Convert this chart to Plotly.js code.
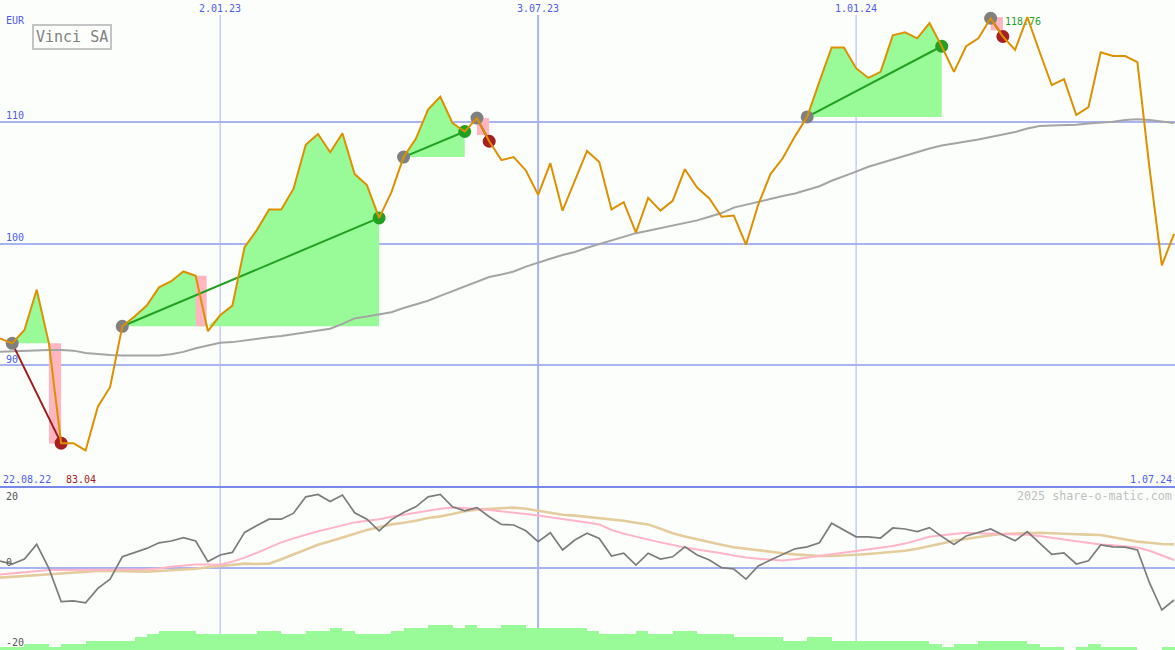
<!DOCTYPE html>
<html>
<head>
<meta charset="utf-8">
<script src="https://cdn.plot.ly/plotly-3.0.1.min.js"></script>
<style>
html,body{margin:0;padding:0;background:#fcfefc;}
#chart{width:1175px;height:650px;}
</style>
</head>
<body>
<div id="chart"></div>
<script>
// ---------- data (weekly closes, first week starting 2022-08-29) ----------
const firstWeek = '2022-08-29';
const price = [92.2, 91.8, 92.9, 96.2, 91.8, 83.6, 83.6, 83.0, 86.6, 88.2,
  93.2, 94.0, 94.9, 96.4, 96.9, 97.7, 97.35, 92.8, 94.1, 94.9,
  99.7, 101.1, 102.8, 102.8, 104.5, 108.1, 109.0, 107.5, 109.05, 105.7,
  104.8, 102.1, 104.2, 107.1, 108.6, 111.0, 112.05, 109.9, 109.2, 110.3,
  108.4, 106.85, 107.1, 106.0, 104.0, 106.6, 102.7, 105.2, 107.6, 106.7,
  102.8, 103.4, 100.9, 103.75, 102.7, 103.5, 106.1, 104.6, 103.7, 102.2,
  102.3, 99.9, 103.2, 105.7, 107.0, 108.8, 110.4, 113.3, 116.1, 116.1,
  114.4, 113.6, 114.1, 117.1, 117.35, 116.85, 118.1, 116.2, 114.1, 116.2,
  116.85, 118.5, 117.0, 115.9, 118.6, 115.75, 113.0, 113.5, 110.55, 111.2,
  115.7, 115.4, 115.4, 114.9, 106.1, 98.2, 100.8];
const slowAverage = [91.1, 91.15, 91.2, 91.2, 91.25, 91.25, 91.2, 91.0, 90.9, 90.85,
  90.8, 90.8, 90.8, 90.8, 90.9, 91.1, 91.4, 91.65, 91.85, 91.9,
  92.05, 92.15, 92.3, 92.4, 92.55, 92.7, 92.85, 93.0, 93.4, 93.85,
  94.0, 94.2, 94.35, 94.7, 95.0, 95.3, 95.7, 96.1, 96.5, 96.9,
  97.25, 97.45, 97.7, 98.1, 98.45, 98.75, 99.05, 99.3, 99.65, 99.95,
  100.3, 100.6, 100.85, 101.05, 101.25, 101.45, 101.65, 101.9, 102.2, 102.5,
  102.95, 103.2, 103.45, 103.65, 103.9, 104.1, 104.4, 104.7, 105.15, 105.5,
  105.9, 106.3, 106.6, 106.95, 107.25, 107.55, 107.8, 108.05, 108.2, 108.35,
  108.55, 108.75, 108.95, 109.15, 109.45, 109.65, 109.7, 109.7, 109.75, 109.85,
  109.9, 110.0, 110.15, 110.2, 110.15, 110.0, 109.9];
const momentum = [1.75, 1.0, 2.25, 5.9, -0.1, -8.4, -8.2, -8.7, -5.1, -2.8,
  2.8, 3.8, 4.9, 6.3, 6.75, 7.6, 6.75, 1.6, 3.25, 3.9,
  8.9, 10.6, 12.2, 12.2, 13.7, 17.8, 18.4, 16.6, 18.25, 13.8,
  12.2, 9.3, 12.1, 13.9, 15.3, 17.8, 18.4, 15.3, 14.3, 15.1,
  12.8, 10.9, 10.75, 9.3, 6.6, 8.8, 4.5, 7.0, 8.7, 7.4,
  3.0, 3.7, 0.75, 3.7, 2.25, 2.8, 5.3, 3.25, 2.0, 0.1,
  -0.25, -2.8, 0.5, 2.0, 3.5, 4.8, 5.3, 6.3, 11.2, 9.5,
  7.8, 7.8, 7.5, 10.0, 9.75, 9.1, 10.1, 7.9, 5.9, 8.0,
  8.8, 9.75, 8.25, 6.8, 9.1, 6.2, 3.4, 3.8, 1.0, 1.8,
  5.75, 5.3, 5.2, 4.5, -3.8, -10.5, -8.0];
const momentumFast = [-1.6, -1.3, -1.0, -0.8, -0.5, -0.5, -0.5, -0.5, -0.5, -0.45,
  -0.4, -0.35, -0.3, -0.1, 0.3, 0.6, 0.9, 0.9, 0.8, 1.6,
  2.6, 3.8, 5.1, 6.4, 7.4, 8.3, 9.2, 9.9, 10.7, 11.4,
  11.8, 12.2, 12.8, 13.3, 13.8, 14.3, 14.8, 15.1, 15.0, 14.8,
  14.5, 14.2, 13.9, 13.5, 13.1, 12.7, 12.2, 11.8, 11.4, 10.9,
  9.5, 8.6, 7.8, 7.1, 6.4, 5.7, 5.1, 4.6, 4.2, 3.7,
  3.1, 2.6, 2.3, 2.0, 1.85, 2.2, 2.6, 3.0, 3.4, 3.8,
  4.2, 4.6, 5.1, 5.5, 6.1, 6.9, 7.8, 8.2, 8.5, 8.8,
  8.7, 8.6, 8.5, 8.4, 8.3, 8.0, 7.5, 7.1, 6.7, 6.3,
  5.9, 5.7, 5.4, 5.1, 4.3, 3.1, 2.0];
const momentumSlow = [-2.4, -2.2, -2.0, -1.8, -1.6, -1.4, -1.2, -0.95, -0.75, -0.75,
  -0.8, -0.85, -0.9, -0.75, -0.55, -0.4, -0.2, 0.2, 0.5, 0.85,
  1.1, 1.0, 1.1, 2.2, 3.4, 4.6, 5.8, 6.7, 7.6, 8.6,
  9.5, 10.2, 10.9, 11.3, 11.8, 12.5, 12.9, 13.5, 14.2, 14.6,
  14.8, 15.0, 15.1, 14.8, 14.3, 13.7, 13.3, 13.1, 12.8, 12.5,
  12.2, 11.8, 11.3, 10.9, 9.8, 8.7, 7.9, 7.2, 6.4, 5.8,
  5.2, 4.8, 4.4, 4.0, 3.7, 3.4, 3.2, 3.0, 3.0, 3.1,
  3.3, 3.5, 3.8, 4.0, 4.3, 4.8, 5.4, 6.1, 6.8, 7.3,
  7.8, 8.2, 8.5, 8.6, 8.75, 8.8, 8.7, 8.5, 8.45, 8.35,
  8.25, 7.7, 7.1, 6.6, 6.3, 6.0, 5.9];
const volumeLevel = [1, 1, 2, 2, 1, 2, 2, 3, 3, 3,
  3, 4, 5, 6, 6, 6, 5, 5, 5, 5,
  5, 6, 6, 5, 5, 6, 6, 7, 6, 5,
  5, 5, 6, 7, 7, 8, 8, 7, 8, 7,
  7, 8, 8, 7, 7, 7, 7, 7, 6, 5,
  5, 5, 6, 5, 5, 6, 6, 5, 5, 5,
  4, 4, 4, 4, 3, 3, 4, 4, 3, 3,
  3, 3, 3, 3, 3, 3, 2, 1, 2, 2,
  3, 3, 3, 3, 2, 1, 1, 0, 1, 2,
  1, 1, 1, 0, 0, 1, 1];
// trades (week index of entry and exit)
const buyWeek  = [1, 10, 33, 39, 66, 81];
const sellWeek = [5, 31, 38, 40, 77, 82];
// drawdown boxes (week index span and price span)
const lossFrom = [4, 16, 39, 81];
const lossTo   = [5, 16.9, 40, 82];
const lossHigh = [91.8, 97.35, 110.3, 118.6];
const lossLow  = [83.57, 93.2, 108.9, 117.5];
// axis labels
const gridDates  = ['2023-01-02', '2023-07-03', '2024-01-01'];
const gridLabels = ['2.01.23', '3.07.23', '1.01.24'];
const priceTicks = [110, 100, 90];
const lowerTicks = [20, 0, -20];
const chartTitle = 'Vinci SA';
const currency = 'EUR';
const firstDateLabel = '22.08.22';
const lastDateLabel = '1.07.24';
const lowLabel = '83.04', lowValue = 83.04;
const highLabel = '118.76', highValue = 118.76;
const credit = '2025 share-o-matic.com';

// ---------- helpers ----------
const t0 = Date.parse(firstWeek + 'T00:00:00Z');
const WEEK = 7 * 864e5;
function weekDate(k) { return new Date(t0 + k * WEEK).toISOString().replace('T', ' ').replace('Z', ''); }
const weeks = price.map((_, i) => weekDate(i));
const H = 650, W = 1175;
const py = p => 1 - p / H;
const px = p => p / W;

const BLUE = '#4c5cf0';
const MONO = 'DejaVu Sans Mono, monospace';
const traces = [];

// volume-like bars in lower panel
traces.push({type: 'bar', x: weeks, y: volumeLevel, yaxis: 'y3', width: WEEK, offset: 0,
  marker: {color: '#98fb98', line: {width: 0}}});
// lower panel lines
traces.push({type: 'scatter', mode: 'lines', x: weeks, y: momentumSlow, yaxis: 'y2',
  line: {color: '#e4cc9c', width: 2.6}});
traces.push({type: 'scatter', mode: 'lines', x: weeks, y: momentumFast, yaxis: 'y2',
  line: {color: '#ffb4c8', width: 2}});
traces.push({type: 'scatter', mode: 'lines', x: weeks, y: momentum, yaxis: 'y2',
  line: {color: '#7c7c7c', width: 1.7}});

// green gain areas for each trade
buyWeek.forEach((b, t) => {
  const s = sellWeek[t];
  const lvl = price[b];
  const xs = [], top = [], base = [];
  for (let i = b; i <= s; i++) { xs.push(weeks[i]); top.push(Math.max(price[i], lvl)); base.push(lvl); }
  traces.push({type: 'scatter', mode: 'lines', x: xs, y: base, line: {width: 0, color: 'rgba(0,0,0,0)'}});
  traces.push({type: 'scatter', mode: 'lines', x: xs, y: top, fill: 'tonexty', fillcolor: '#98fb98',
    line: {width: 0, color: 'rgba(0,0,0,0)'}});
});
// pink drawdown boxes
lossFrom.forEach((a, k) => {
  const b = lossTo[k];
  traces.push({type: 'scatter', mode: 'lines',
    x: [weekDate(a), weekDate(b), weekDate(b), weekDate(a), weekDate(a)],
    y: [lossLow[k], lossLow[k], lossHigh[k], lossHigh[k], lossLow[k]],
    fill: 'toself', fillcolor: '#ffb6c1', line: {width: 0, color: 'rgba(0,0,0,0)'}});
});
// slow average
traces.push({type: 'scatter', mode: 'lines', x: weeks, y: slowAverage, line: {color: '#a4a4a4', width: 2}});
// trade lines
buyWeek.forEach((b, t) => {
  const s = sellWeek[t];
  const win = price[s] > price[b];
  traces.push({type: 'scatter', mode: 'lines', x: [weeks[b], weeks[s]], y: [price[b], price[s]],
    line: {color: win ? '#22a022' : '#a01c1c', width: 2}});
});
// markers
traces.push({type: 'scatter', mode: 'markers', x: buyWeek.map(i => weeks[i]), y: buyWeek.map(i => price[i]),
  marker: {color: '#808080', size: 13, line: {width: 0}}});
traces.push({type: 'scatter', mode: 'markers', x: sellWeek.map(i => weeks[i]), y: sellWeek.map(i => price[i]),
  marker: {color: sellWeek.map((s, t) => price[s] > price[buyWeek[t]] ? '#22a022' : '#a52020'), size: 13, line: {width: 0}}});
// price line
traces.push({type: 'scatter', mode: 'lines', x: weeks, y: price, line: {color: '#dd9000', width: 2}});

// ---------- layout ----------
const split = 487 / H; // panel border from top
const shapes = [];
gridDates.forEach((d, k) => {
  shapes.push({type: 'line', xref: 'x', yref: 'paper', x0: d, x1: d, y0: 0, y1: py(15), layer: 'below',
    line: {color: '#a8b4f0', width: k === 1 ? 2 : 1}});
});
shapes.push({type: 'line', xref: 'paper', yref: 'paper', x0: 0, x1: 1, y0: 1 - split, y1: 1 - split,
  line: {color: '#7888e8', width: 2}});

const annotations = [];
const small = {family: MONO, size: 10, color: BLUE};
gridDates.forEach((d, k) => {
  annotations.push({xref: 'x', yref: 'paper', x: d, y: py(8), text: gridLabels[k], showarrow: false,
    xanchor: 'center', yanchor: 'middle', font: small});
});
priceTicks.forEach(v => {
  annotations.push({xref: 'paper', yref: 'y', x: px(4), y: v, yshift: 6, text: String(v), showarrow: false,
    xanchor: 'left', yanchor: 'middle', font: small});
});
lowerTicks.forEach(v => {
  annotations.push({xref: 'paper', yref: 'y2', x: px(4), y: v, yshift: v === Math.max(...lowerTicks) ? -8 : 6,
    text: String(v), showarrow: false, xanchor: 'left', yanchor: 'middle',
    font: {family: MONO, size: 10, color: '#555555'}});
});
annotations.push({xref: 'paper', yref: 'paper', x: px(4), y: py(20), text: currency, showarrow: false,
  xanchor: 'left', yanchor: 'middle', font: small});
annotations.push({xref: 'paper', yref: 'paper', x: px(32), y: py(24), text: chartTitle, showarrow: false,
  xanchor: 'left', yanchor: 'top', font: {family: MONO, size: 15, color: '#808080'},
  bordercolor: '#c4c4c4', borderwidth: 2, borderpad: 2, bgcolor: '#fcfefc'});
annotations.push({xref: 'paper', yref: 'paper', x: px(1), y: py(479), text: firstDateLabel, showarrow: false,
  xanchor: 'left', yanchor: 'middle', font: small});
annotations.push({xref: 'paper', yref: 'paper', x: px(1174), y: py(479), text: lastDateLabel, showarrow: false,
  xanchor: 'right', yanchor: 'middle', font: small});
annotations.push({xref: 'x', yref: 'paper', x: weeks[sellWeek[0]], xshift: 3, y: py(479), text: lowLabel,
  showarrow: false, xanchor: 'left', yanchor: 'middle', font: {family: MONO, size: 10, color: '#a01c1c'}});
annotations.push({xref: 'x', yref: 'y', x: weeks[sellWeek[5]], y: highValue, yshift: -6, text: highLabel,
  showarrow: false, xanchor: 'left', yanchor: 'middle', font: {family: MONO, size: 10, color: '#22a022'}});
annotations.push({xref: 'paper', yref: 'paper', x: px(1174), y: py(496), text: credit, showarrow: false,
  xanchor: 'right', yanchor: 'middle', font: {family: MONO, size: 11.7, color: '#c0c0c0'}});

const layout = {
  width: W, height: H, margin: {l: 0, r: 0, t: 0, b: 0, pad: 0},
  paper_bgcolor: '#fcfefc', plot_bgcolor: '#fcfefc',
  showlegend: false, hovermode: false, bargap: 0,
  xaxis: {type: 'date', range: [weekDate(0), weekDate(W / 12.23)], showgrid: false, zeroline: false,
    showticklabels: false, ticks: '', showline: false},
  yaxis: {domain: [1 - split, 1], range: [80, 120], tickvals: priceTicks, showticklabels: false, ticks: '',
    gridcolor: '#a8b4f0', gridwidth: 2, zeroline: false, showline: false},
  yaxis2: {domain: [0, 1 - split], range: [-20.5, 20.25], tickvals: [0], showticklabels: false, ticks: '',
    gridcolor: '#a8b4f0', gridwidth: 2, zeroline: false, showline: false},
  yaxis3: {overlaying: 'y2', range: [0, 51.7], visible: false, showgrid: false, zeroline: false},
  shapes: shapes,
  annotations: annotations
};

Plotly.newPlot('chart', traces, layout, {staticPlot: true, displayModeBar: false});
</script>
</body>
</html>
